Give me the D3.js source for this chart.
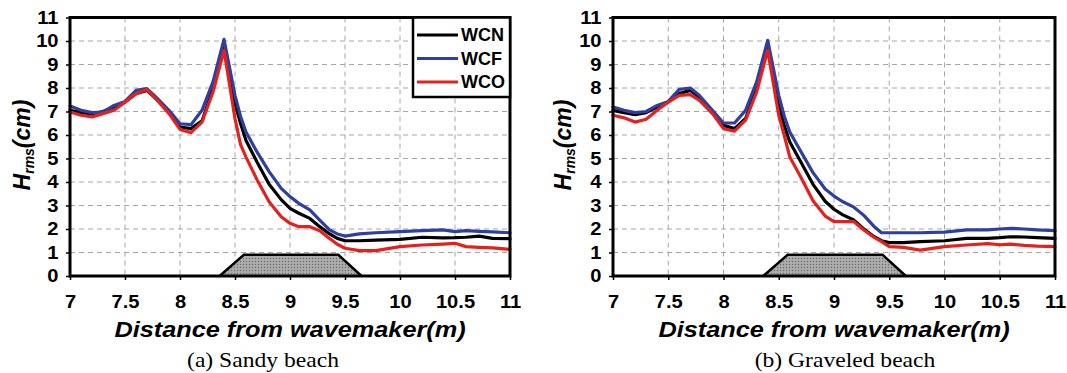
<!DOCTYPE html>
<html>
<head>
<meta charset="utf-8">
<script src="https://cdn.jsdelivr.net/npm/d3@7"></script>
<style>
  html, body { margin: 0; padding: 0; background: #fff; }
  svg { display: block; }
</style>
</head>
<body>
<svg id="chart" width="1067" height="373"></svg>
<script>
// ---------------- DATA ----------------
const distance = [7.0, 7.1, 7.2, 7.3, 7.4, 7.5, 7.6, 7.7, 7.78, 7.9, 8.0, 8.1, 8.2, 8.3, 8.4, 8.5, 8.55, 8.6, 8.7, 8.81, 8.92, 9.0, 9.08, 9.18, 9.27, 9.36, 9.43, 9.5, 9.63, 9.78, 10.0, 10.2, 10.39, 10.5, 10.6, 10.72, 10.84, 11.0];

const seriesNames = ["WCN", "WCF", "WCO"];

// (a) Sandy beach
const sandyWCN = [7.05, 6.95, 6.9, 7.0, 7.2, 7.4, 7.76, 7.9, 7.55, 6.98, 6.34, 6.27, 6.6, 7.97, 9.9, 7.33, 6.5, 5.77, 4.85, 3.9, 3.25, 2.88, 2.67, 2.45, 2.1, 1.79, 1.6, 1.5, 1.5, 1.53, 1.56, 1.65, 1.62, 1.63, 1.65, 1.7, 1.6, 1.59];
const sandyWCF = [7.23, 7.05, 6.95, 6.97, 7.26, 7.43, 7.9, 7.97, 7.62, 7.05, 6.48, 6.44, 7.05, 8.26, 10.07, 7.69, 6.8, 6.13, 5.28, 4.44, 3.73, 3.38, 3.09, 2.81, 2.38, 1.96, 1.79, 1.7, 1.79, 1.84, 1.89, 1.93, 1.96, 1.89, 1.93, 1.9, 1.88, 1.84];
const sandyWCO = [6.98, 6.84, 6.77, 6.91, 7.05, 7.4, 7.76, 7.94, 7.55, 6.91, 6.24, 6.1, 6.55, 7.83, 9.6, 6.7, 5.6, 5.06, 4.1, 3.16, 2.52, 2.24, 2.1, 2.1, 1.93, 1.6, 1.35, 1.18, 1.08, 1.08, 1.25, 1.32, 1.36, 1.39, 1.25, 1.22, 1.2, 1.13];

// (b) Graveled beach
const gravelWCN = [7.05, 6.95, 6.87, 6.95, 7.19, 7.4, 7.76, 7.9, 7.62, 6.95, 6.41, 6.27, 6.7, 7.97, 9.9, 7.26, 6.4, 5.7, 4.85, 3.9, 3.18, 2.84, 2.6, 2.38, 2.0, 1.68, 1.5, 1.42, 1.42, 1.46, 1.5, 1.6, 1.6, 1.63, 1.67, 1.66, 1.63, 1.6];
const gravelWCF = [7.19, 7.05, 6.95, 7.0, 7.26, 7.43, 7.94, 8.0, 7.69, 7.05, 6.51, 6.51, 7.05, 8.26, 10.03, 7.69, 6.8, 6.13, 5.3, 4.4, 3.7, 3.4, 3.16, 2.93, 2.58, 2.12, 1.84, 1.84, 1.84, 1.84, 1.87, 1.96, 1.96, 2.0, 2.03, 2.0, 1.96, 1.93];
const gravelWCO = [6.84, 6.73, 6.55, 6.67, 7.05, 7.4, 7.69, 7.72, 7.48, 6.91, 6.27, 6.16, 6.63, 7.83, 9.6, 6.84, 5.98, 5.06, 4.2, 3.2, 2.55, 2.31, 2.31, 2.31, 1.96, 1.65, 1.46, 1.25, 1.22, 1.1, 1.25, 1.32, 1.38, 1.33, 1.36, 1.3, 1.27, 1.25];

// Submerged breakwater outline (distance, height)
const breakwaterX = [8.36, 8.58, 9.44, 9.65];
const breakwaterY = [0, 0.9, 0.9, 0];

const xTicks = [7, 7.5, 8, 8.5, 9, 9.5, 10, 10.5, 11];
const xTickLabels = ["7", "7.5", "8", "8.5", "9", "9.5", "10", "10.5", "11"];
const yTicks = [0, 1, 2, 3, 4, 5, 6, 7, 8, 9, 10, 11];
const yTickLabels = ["0", "1", "2", "3", "4", "5", "6", "7", "8", "9", "10", "11"];

const panelCaptions = ["(a) Sandy beach", "(b) Graveled beach"];
const xTitle = "Distance from wavemaker(m)";
const seriesColors = ["#000000", "#2f3f9f", "#e3221f"];

// ---------------- DRAW ----------------
const svg = d3.select("#chart");
const defs = svg.append("defs");
const pat = defs.append("pattern").attr("id", "hatch").attr("patternUnits", "userSpaceOnUse")
  .attr("width", 3).attr("height", 3);
pat.append("rect").attr("width", 3).attr("height", 3).attr("fill", "#a3a3a3");
pat.append("rect").attr("width", 1).attr("height", 1).attr("fill", "#6e6e6e");
pat.append("rect").attr("x", 1.5).attr("y", 1.5).attr("width", 1).attr("height", 1).attr("fill", "#cfcfcf");

const panels = [
  { left: 70, right: 510, top: 17.5, bottom: 276, series: [sandyWCN, sandyWCF, sandyWCO], legend: true, caption: panelCaptions[0], captionX: 263, ytitleX: 22 },
  { left: 613, right: 1055, top: 17.5, bottom: 276, series: [gravelWCN, gravelWCF, gravelWCO], legend: false, caption: panelCaptions[1], captionX: 845, ytitleX: 563 }
];

const boldFont = "'Liberation Sans', Arial, sans-serif";

panels.forEach((p, pi) => {
  const x = d3.scaleLinear().domain([7, 11]).range([p.left, p.right]);
  const y = d3.scaleLinear().domain([0, 11]).range([p.bottom, p.top]);
  const g = svg.append("g");

  // grid
  g.append("g").selectAll("line").data(xTicks.slice(1, -1)).join("line")
    .attr("x1", d => x(d)).attr("x2", d => x(d)).attr("y1", p.top).attr("y2", p.bottom)
    .attr("stroke", "#a6a6a6").attr("stroke-width", 1).attr("stroke-dasharray", "5,4");
  g.append("g").selectAll("line").data(yTicks.slice(1, -1)).join("line")
    .attr("y1", d => y(d)).attr("y2", d => y(d)).attr("x1", p.left).attr("x2", p.right)
    .attr("stroke", "#a6a6a6").attr("stroke-width", 1).attr("stroke-dasharray", "5,4");

  // axes
  const xAxis = d3.axisBottom(x).tickValues(xTicks).tickSize(4).tickPadding(16)
    .tickFormat((d, i) => xTickLabels[i]);
  const ax = g.append("g").attr("transform", `translate(0,${p.bottom})`).call(xAxis);
  ax.select(".domain").remove();
  ax.selectAll("line").attr("stroke", "#000").attr("stroke-width", 1.5);
  ax.selectAll("text").attr("font-family", boldFont).attr("font-weight", "bold")
    .attr("font-size", 17.5).attr("fill", "#000").attr("transform", "scale(1.15,1)");

  const yAxis = d3.axisLeft(y).tickValues(yTicks).tickSize(4).tickPadding(6)
    .tickFormat((d, i) => yTickLabels[i]);
  const ay = g.append("g").attr("transform", `translate(${p.left},0)`).call(yAxis);
  ay.select(".domain").remove();
  ay.selectAll("line").attr("stroke", "#000").attr("stroke-width", 1.5);
  ay.selectAll("text").attr("font-family", boldFont).attr("font-weight", "bold")
    .attr("font-size", 17.5).attr("fill", "#000").attr("transform", "scale(1.15,1)");

  // breakwater
  const bw = breakwaterX.map((d, i) => [d, breakwaterY[i]]);
  g.append("path").datum(bw)
    .attr("d", d3.line().x(d => x(d[0])).y(d => y(d[1])))
    .attr("fill", "url(#hatch)").attr("stroke", "#000").attr("stroke-width", 2.5)
    .attr("stroke-linejoin", "miter");

  // lines
  const line = d3.line().x((d, i) => x(distance[i])).y(d => y(d)).curve(d3.curveLinear);
  p.series.forEach((s, si) => {
    g.append("path").datum(s).attr("d", line)
      .attr("fill", "none").attr("stroke", seriesColors[si]).attr("stroke-width", 3.2)
      .attr("stroke-linejoin", "round").attr("stroke-linecap", "round");
  });

  // frame
  g.append("rect").attr("x", p.left).attr("y", p.top)
    .attr("width", p.right - p.left).attr("height", p.bottom - p.top)
    .attr("fill", "none").attr("stroke", "#000").attr("stroke-width", 3);

  // legend
  if (p.legend) {
    const lg = g.append("g");
    lg.append("rect").attr("x", 413).attr("y", p.top).attr("width", p.right - 413).attr("height", 97 - p.top)
      .attr("fill", "#fff").attr("stroke", "#000").attr("stroke-width", 2.5);
    seriesNames.forEach((n, i) => {
      const yy = 35 + i * 23.5;
      lg.append("line").attr("x1", 417).attr("x2", 458).attr("y1", yy).attr("y2", yy)
        .attr("stroke", seriesColors[i]).attr("stroke-width", 3);
      lg.append("text").attr("x", 461).attr("y", yy).attr("dy", "0.36em")
        .attr("font-family", boldFont).attr("font-weight", "bold").attr("font-size", 18)
        .attr("fill", "#000").text(n);
    });
  }

  // x title
  const cx = (p.left + p.right) / 2;
  g.append("text").attr("transform", `translate(${cx},337) scale(1.15,1)`)
    .attr("text-anchor", "middle").attr("font-family", boldFont).attr("font-weight", "bold")
    .attr("font-style", "italic").attr("font-size", 22).attr("fill", "#000").text(xTitle);

  // y title
  const yt = g.append("text").attr("transform", `translate(${p.ytitleX + 8},145) rotate(-90)`)
    .attr("text-anchor", "middle").attr("font-family", boldFont).attr("font-weight", "bold")
    .attr("font-style", "italic").attr("fill", "#000");
  yt.append("tspan").attr("font-size", 23).text("H");
  yt.append("tspan").attr("font-size", 14).attr("dy", 4).text("rms");
  yt.append("tspan").attr("font-size", 23).attr("dy", -4).text("(cm)");

  // caption
  g.append("text").attr("transform", `translate(${p.captionX},367) scale(1.18,1)`)
    .attr("text-anchor", "middle").attr("font-family", "'Liberation Serif', 'Times New Roman', serif")
    .attr("font-size", 20).attr("fill", "#000").text(p.caption);
});
</script>
</body>
</html>
